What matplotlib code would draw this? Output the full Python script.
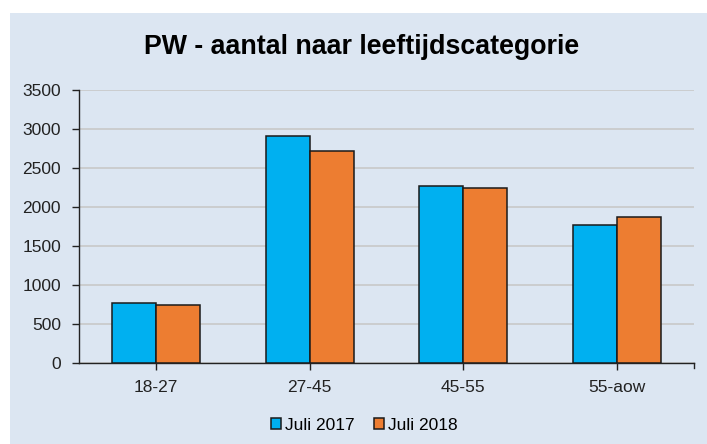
import matplotlib
matplotlib.use("Agg")
import matplotlib.pyplot as plt
from matplotlib.patches import Rectangle
import numpy as np

categories = ["18-27", "27-45", "45-55", "55-aow"]
juli_2017 = [768, 2910, 2270, 1763]
juli_2018 = [746, 2714, 2240, 1869]
series_labels = ["Juli 2017", "Juli 2018"]

bg = "#DCE6F2"
plt.rcParams["font.family"] = ["Liberation Sans", "DejaVu Sans"]

fig = plt.figure(figsize=(7.07, 4.44), dpi=100)
fig.patch.set_facecolor("white")
# light blue chart area, offset from the top-left corner like the original
fig.patches.append(Rectangle((10 / 707, 0), 1, 1 - 13 / 444, transform=fig.transFigure,
                             facecolor=bg, edgecolor="none", zorder=-5))

ax = fig.add_axes([79 / 707, 81 / 444, 615 / 707, 273 / 444])
ax.set_facecolor(bg)

x = np.arange(len(categories)) + 0.5
w = 0.286
ax.bar(x - w / 2, juli_2017, w, color="#00B0F0", edgecolor="#1a1a1a", linewidth=1.1,
       label=series_labels[0], zorder=3)
ax.bar(x + w / 2, juli_2018, w, color="#ED7D31", edgecolor="#1a1a1a", linewidth=1.1,
       label=series_labels[1], zorder=3)

ax.set_xlim(0, 4)
ax.set_ylim(0, 3500)
ax.set_yticks(range(0, 3501, 500))
ax.set_xticks(x)
ax.set_xticklabels(categories)
ax.tick_params(axis="both", labelsize=12.5, colors="#222222", length=5, width=1)
ax.tick_params(axis="x", pad=7)
ax.tick_params(axis="y", pad=8)
ax.yaxis.grid(True, color="#C8C8C8", linewidth=1.2, zorder=0)

for s in ["top", "right"]:
    ax.spines[s].set_visible(False)
for s in ["left", "bottom"]:
    ax.spines[s].set_color("#222222")
    ax.spines[s].set_linewidth(1)

# little end tick on the right of the category axis
ax.plot([4, 4], [0, -70], color="#222222", linewidth=1, clip_on=False)

fig.text(0.512, 1 - 47 / 444, "PW - aantal naar leeftijdscategorie", ha="center", va="center",
         fontsize=19.3, fontweight="bold", color="black")

leg = fig.legend(loc="center", bbox_to_anchor=(0.515, 1 - 425 / 444), ncol=2, frameon=False,
                 fontsize=12.5, handlelength=0.6, handleheight=0.6, handletextpad=0.2,
                 columnspacing=1.1)

fig.savefig("out.png", dpi=100, facecolor=fig.get_facecolor())
